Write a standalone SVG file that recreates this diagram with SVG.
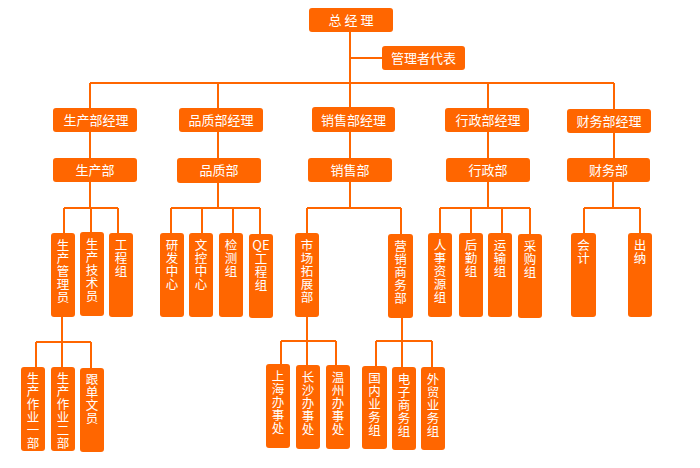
<svg xmlns="http://www.w3.org/2000/svg" width="700" height="468" viewBox="0 0 700 468">
<style>
.b{fill:#FF6600;}
.t{fill:#ffffff;font-family:"Noto Sans CJK SC","Noto Sans",sans-serif;font-size:13px;text-anchor:middle;}
.v{fill:#ffffff;font-family:"Noto Sans CJK SC","Noto Sans",sans-serif;font-size:12.5px;writing-mode:vertical-rl;text-anchor:start;letter-spacing:0.5px;}
.c{fill:none;stroke:#FF6600;stroke-width:2;}
</style>
<rect width="700" height="468" fill="#ffffff"/>
<g id="connectors" class="c">
<path d="M350,32V108M350,58H382M90,83H614M90,83V108M218,83V108M488,83V108M614,83V109"/>
<path d="M90,132V158M218,132V158M350,132V158M488,132V158M614,133V158"/>
<path d="M90,182V208M64,208H118M64,208V233M91,208V232M118,208V233"/>
<path d="M218,183V208M171,208H260M171,208V233M202,208V233M233,208V233M260,208V234"/>
<path d="M350,182V208M307,208H401M307,208V233M401,208V234"/>
<path d="M488,182V208M440,208H530M440,208V233M471,208V233M502,208V233M530,208V234"/>
<path d="M613,182V208M584,208H640M584,208V233M640,208V233"/>
<path d="M62,317V342M36,342H91M36,342V367M62,342V367M91,342V368"/>
<path d="M307,317V341M281,341H336M281,341V364M307,341V365M336,341V365"/>
<path d="M402,318V341M376,341H432M376,341V366M402,341V367M432,341V367"/>
</g>
<g id="n-zjl"><rect class="b" x="309" y="8" width="84" height="24" rx="3"/><text class="t" x="351" y="25" font-size="14">总 经 理</text></g>
<g id="n-glzdb"><rect class="b" x="382" y="46" width="83" height="24" rx="3"/><text class="t" x="423.5" y="63">管理者代表</text></g>
<g id="n-scbjl"><rect class="b" x="53" y="108" width="84" height="24" rx="3"/><text class="t" x="96" y="125">生产部经理</text></g>
<g id="n-pzbjl"><rect class="b" x="179" y="108" width="84" height="24" rx="3"/><text class="t" x="221" y="125">品质部经理</text></g>
<g id="n-xsbjl"><rect class="b" x="312" y="107" width="83" height="25" rx="3"/><text class="t" x="353.5" y="125">销售部经理</text></g>
<g id="n-xzbjl"><rect class="b" x="445" y="108" width="84" height="24" rx="3"/><text class="t" x="488" y="125">行政部经理</text></g>
<g id="n-cwbjl"><rect class="b" x="567" y="109" width="84" height="24" rx="3"/><text class="t" x="609" y="126">财务部经理</text></g>
<g id="n-scb"><rect class="b" x="53" y="158" width="84" height="24" rx="3"/><text class="t" x="95" y="175">生产部</text></g>
<g id="n-pzb"><rect class="b" x="177" y="158" width="84" height="25" rx="3"/><text class="t" x="219" y="175">品质部</text></g>
<g id="n-xsb"><rect class="b" x="308" y="158" width="84" height="24" rx="3"/><text class="t" x="350" y="175">销售部</text></g>
<g id="n-xzb"><rect class="b" x="446" y="158" width="84" height="24" rx="3"/><text class="t" x="488" y="175">行政部</text></g>
<g id="n-cwb"><rect class="b" x="567" y="158" width="83" height="24" rx="3"/><text class="t" x="608.5" y="175">财务部</text></g>

<g id="n-scgly"><rect class="b" x="51" y="233" width="24" height="84" rx="3"/><text class="v" x="63" y="239">生产管理员</text></g>
<g id="n-scjsy"><rect class="b" x="80" y="232" width="24" height="84" rx="3"/><text class="v" x="92" y="238">生产技术员</text></g>
<g id="n-gcz"><rect class="b" x="109" y="233" width="24" height="84" rx="3"/><text class="v" x="121" y="239">工程组</text></g>
<g id="n-yfzx"><rect class="b" x="160" y="233" width="24" height="84" rx="3"/><text class="v" x="172" y="239">研发中心</text></g>
<g id="n-wkzx"><rect class="b" x="189" y="233" width="24" height="84" rx="3"/><text class="v" x="201" y="239">文控中心</text></g>
<g id="n-jcz"><rect class="b" x="219" y="233" width="24" height="84" rx="3"/><text class="v" x="231" y="239">检测组</text></g>
<g id="n-qegcz"><rect class="b" x="249" y="234" width="24" height="84" rx="3"/><text class="t" x="261" y="250" font-size="12.5">QE</text><text class="v" x="261" y="253">工程组</text></g>
<g id="n-sctzb"><rect class="b" x="295" y="233" width="24" height="84" rx="3"/><text class="v" x="307" y="239">市场拓展部</text></g>
<g id="n-yxswb"><rect class="b" x="388" y="234" width="25" height="84" rx="3"/><text class="v" x="400.5" y="240">营销商务部</text></g>
<g id="n-rszyz"><rect class="b" x="428" y="233" width="24" height="84" rx="3"/><text class="v" x="440" y="239">人事资源组</text></g>
<g id="n-hqz"><rect class="b" x="459" y="233" width="24" height="84" rx="3"/><text class="v" x="471" y="239">后勤组</text></g>
<g id="n-ysz"><rect class="b" x="488" y="233" width="24" height="84" rx="3"/><text class="v" x="500" y="239">运输组</text></g>
<g id="n-cgz"><rect class="b" x="518" y="234" width="24" height="84" rx="3"/><text class="v" x="530" y="240">采购组</text></g>
<g id="n-kj"><rect class="b" x="571" y="233" width="25" height="84" rx="3"/><text class="v" x="583.5" y="239">会计</text></g>
<g id="n-cn"><rect class="b" x="628" y="233" width="24" height="84" rx="3"/><text class="v" x="640" y="239">出纳</text></g>

<g id="n-sczy1"><rect class="b" x="21" y="367" width="24" height="84" rx="3"/><text class="v" x="33" y="372">生产作业一部</text></g>
<g id="n-sczy2"><rect class="b" x="51" y="367" width="24" height="84" rx="3"/><text class="v" x="63" y="372">生产作业二部</text></g>
<g id="n-gdwy"><rect class="b" x="80" y="368" width="24" height="84" rx="3"/><text class="v" x="92" y="373">跟单文员</text></g>
<g id="n-shbsc"><rect class="b" x="266" y="364" width="24" height="84" rx="3"/><text class="v" x="278" y="370">上海办事处</text></g>
<g id="n-csbsc"><rect class="b" x="296" y="365" width="24" height="84" rx="3"/><text class="v" x="308" y="371">长沙办事处</text></g>
<g id="n-wzbsc"><rect class="b" x="326" y="365" width="24" height="84" rx="3"/><text class="v" x="338" y="371">温州办事处</text></g>
<g id="n-gnywz"><rect class="b" x="362" y="366" width="25" height="83" rx="3"/><text class="v" x="374.5" y="372">国内业务组</text></g>
<g id="n-dzswz"><rect class="b" x="392" y="367" width="24" height="83" rx="3"/><text class="v" x="404" y="373">电子商务组</text></g>
<g id="n-wmywz"><rect class="b" x="421" y="367" width="24" height="83" rx="3"/><text class="v" x="433" y="373">外贸业务组</text></g>
</svg>
